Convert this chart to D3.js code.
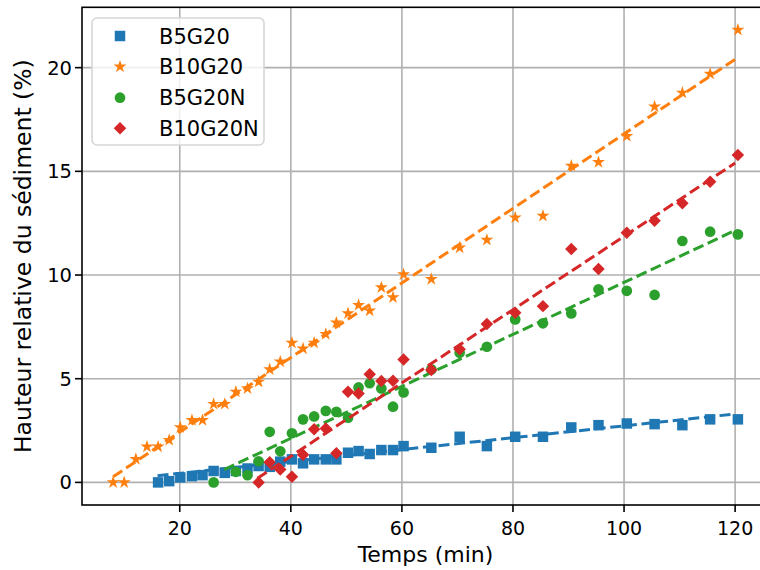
<!DOCTYPE html>
<html>
<head>
<meta charset="utf-8">
<script src="https://cdn.jsdelivr.net/npm/d3@7/dist/d3.min.js"></script>
<style>
  html, body { margin: 0; padding: 0; background: #fff; }
  svg { display: block; font-family: "DejaVu Sans", sans-serif; }
</style>
</head>
<body>
<svg id="chart" width="760" height="570"></svg>
<script>
// ---------- data ----------
const seriesNames = ["B5G20", "B10G20", "B5G20N", "B10G20N"];
const seriesColors = ["#1f77b4", "#ff7f0e", "#2ca02c", "#d62728"];

const xB10G20 = [8, 10, 12.1, 14.1, 16.1, 18.1, 20.1, 22.2, 24.1, 26.1, 28.1, 30.1, 32.2, 34.2, 36.2, 38.1, 40.2, 42.2, 44.2, 46.3, 48.2, 50.3, 52.2, 54.2, 56.3, 58.4, 60.3, 65.3, 70.4, 75.3, 80.4, 85.4, 90.5, 95.4, 100.5, 105.5, 110.5, 115.5, 120.5];
const yB10G20 = [0, 0, 1.12, 1.72, 1.72, 2.04, 2.65, 3.0, 3.0, 3.78, 3.78, 4.37, 4.53, 4.85, 5.45, 5.82, 6.73, 6.45, 6.73, 7.15, 7.7, 8.15, 8.55, 8.28, 9.4, 8.92, 10.03, 9.8, 11.32, 11.69, 12.77, 12.85, 15.27, 15.44, 16.7, 18.12, 18.79, 19.7, 21.82];

const xB5G20 = [16.1, 18.1, 20.1, 22.2, 24.1, 26.1, 28.1, 30.1, 32.2, 34.2, 36.2, 38.1, 40.2, 42.2, 44.2, 46.3, 48.2, 50.3, 52.2, 54.2, 56.3, 58.4, 60.3, 65.3, 70.4, 75.3, 80.4, 85.4, 90.5, 95.4, 100.5, 105.5, 110.5, 115.5, 120.5];
const yB5G20 = [0, 0.06, 0.24, 0.3, 0.35, 0.55, 0.46, 0.55, 0.67, 0.79, 0.75, 1.0, 1.11, 0.92, 1.11, 1.11, 1.11, 1.43, 1.51, 1.37, 1.56, 1.56, 1.75, 1.67, 2.2, 1.75, 2.2, 2.2, 2.65, 2.76, 2.84, 2.81, 2.76, 3.04, 3.04];

const xB5G20N = [26.1, 30.1, 32.2, 34.2, 36.2, 38.1, 40.2, 42.2, 44.2, 46.3, 48.2, 50.3, 52.2, 54.2, 56.3, 58.4, 60.3, 65.3, 70.4, 75.3, 80.4, 85.4, 90.5, 95.4, 100.5, 105.5, 110.5, 115.5, 120.5];
const yB5G20N = [0, 0.51, 0.35, 1.02, 2.44, 1.5, 2.37, 3.04, 3.18, 3.45, 3.4, 3.12, 4.58, 4.78, 4.53, 3.65, 4.34, 5.45, 6.25, 6.54, 7.86, 7.67, 8.15, 9.31, 9.24, 9.04, 11.64, 12.09, 11.96];

const xB10G20N = [34.2, 36.2, 38.1, 40.2, 42.2, 44.2, 46.3, 48.2, 50.3, 52.2, 54.2, 56.3, 58.4, 60.3, 65.3, 70.4, 75.3, 80.4, 85.4, 90.5, 95.4, 100.5, 105.5, 110.5, 115.5, 120.5];
const yB10G20N = [0, 0.97, 0.62, 0.27, 1.33, 2.56, 2.6, 1.4, 4.37, 4.29, 5.21, 4.89, 4.9, 5.93, 5.42, 6.42, 7.64, 8.18, 8.5, 11.25, 10.29, 12.04, 12.62, 13.46, 14.5, 15.79];

// fitted trend lines (endpoints): [x0, y0, x1, y1]
const fitB5G20 = [16, 0.32, 120, 3.3];
const fitB10G20 = [8, 0.27, 120, 20.4];
const fitB5G20N = [28, 0.62, 120, 12.15];
const fitB10G20N = [34, 0.2, 120, 15.4];

const xTicks = [20, 40, 60, 80, 100, 120];
const yTicks = [0, 5, 10, 15, 20];
const xLabel = "Temps (min)";
const yLabel = "Hauteur relative du sédiment (%)";

// ---------- layout ----------
const svg = d3.select("#chart");
const L = 82, R = 769, T = 7.3, B = 505;
const x = d3.scaleLinear().domain([2.4, 126.1]).range([L, R]);
const y = d3.scaleLinear().domain([-1.09, 22.91]).range([B, T]);

// grid
const grid = svg.append("g");
grid.selectAll("line.gx").data(xTicks).join("line")
  .attr("x1", d => x(d)).attr("x2", d => x(d)).attr("y1", T).attr("y2", B)
  .attr("stroke", "#b0b0b0").attr("stroke-width", 1.6);
grid.selectAll("line.gy").data(yTicks).join("line")
  .attr("y1", d => y(d)).attr("y2", d => y(d)).attr("x1", L).attr("x2", R)
  .attr("stroke", "#b0b0b0").attr("stroke-width", 1.6);

// series
const shapes = [
  {type: d3.symbolSquare, size: 110, rot: 0},
  {type: d3.symbolStar, size: 52, rot: 0},
  {type: d3.symbolCircle, size: 90, rot: 0},
  {type: d3.symbolSquare, size: 78, rot: 45}
];
const series = [
  {xs: xB5G20, ys: yB5G20, fit: fitB5G20},
  {xs: xB10G20, ys: yB10G20, fit: fitB10G20},
  {xs: xB5G20N, ys: yB5G20N, fit: fitB5G20N},
  {xs: xB10G20N, ys: yB10G20N, fit: fitB10G20N}
];

const plot = svg.append("g");
series.forEach((s, i) => {
  const pts = s.xs.map((v, k) => [v, s.ys[k]]);
  const sym = d3.symbol().type(shapes[i].type).size(shapes[i].size);
  plot.append("g").selectAll("path").data(pts).join("path")
    .attr("d", sym)
    .attr("transform", d => `translate(${x(d[0])},${y(d[1])}) rotate(${shapes[i].rot})`)
    .attr("fill", seriesColors[i]);
  plot.append("line")
    .attr("x1", x(s.fit[0])).attr("y1", y(s.fit[1]))
    .attr("x2", x(s.fit[2])).attr("y2", y(s.fit[3]))
    .attr("stroke", seriesColors[i]).attr("stroke-width", 3)
    .attr("stroke-dasharray", "11,4.7");
});

// axes spines
const axes = svg.append("g");
axes.append("rect").attr("x", L).attr("y", T).attr("width", R - L).attr("height", B - T)
  .attr("fill", "none").attr("stroke", "#000").attr("stroke-width", 1.6);

// x ticks
const xt = axes.selectAll("g.xt").data(xTicks).join("g");
xt.append("line").attr("x1", d => x(d)).attr("x2", d => x(d)).attr("y1", B).attr("y2", B + 7)
  .attr("stroke", "#000").attr("stroke-width", 1.6);
xt.append("text").attr("x", d => x(d)).attr("y", B + 30).attr("text-anchor", "middle")
  .attr("font-size", 19).attr("fill", "#000").text(d => d);

// y ticks
const yt = axes.selectAll("g.yt").data(yTicks).join("g");
yt.append("line").attr("x1", L - 7).attr("x2", L).attr("y1", d => y(d)).attr("y2", d => y(d))
  .attr("stroke", "#000").attr("stroke-width", 1.6);
yt.append("text").attr("x", L - 10).attr("y", d => y(d) + 7).attr("text-anchor", "end")
  .attr("font-size", 19.5).attr("fill", "#000").text(d => d);

// axis labels
svg.append("text").attr("x", (L + R) / 2).attr("y", 562).attr("text-anchor", "middle")
  .attr("font-size", 22).attr("fill", "#000").text(xLabel);
svg.append("text").attr("transform", `translate(31,${(T + B) / 2}) rotate(-90)`)
  .attr("text-anchor", "middle").attr("font-size", 23.5).attr("fill", "#000").text(yLabel);

// legend
const lg = svg.append("g");
lg.append("rect").attr("x", 92).attr("y", 18).attr("width", 172).attr("height", 127)
  .attr("rx", 5).attr("fill", "#fff").attr("fill-opacity", 0.8)
  .attr("stroke", "#d6d6d6").attr("stroke-width", 1.6);
const rowY = [36, 66.7, 97.7, 128.3];
seriesNames.forEach((name, i) => {
  const sym = d3.symbol().type(shapes[i].type).size(shapes[i].size);
  lg.append("path").attr("d", sym)
    .attr("transform", `translate(120,${rowY[i]}) rotate(${shapes[i].rot})`)
    .attr("fill", seriesColors[i]);
  lg.append("text").attr("x", 159).attr("y", rowY[i] + 7.5)
    .attr("font-size", 21).attr("fill", "#000").text(name);
});
</script>
</body>
</html>
